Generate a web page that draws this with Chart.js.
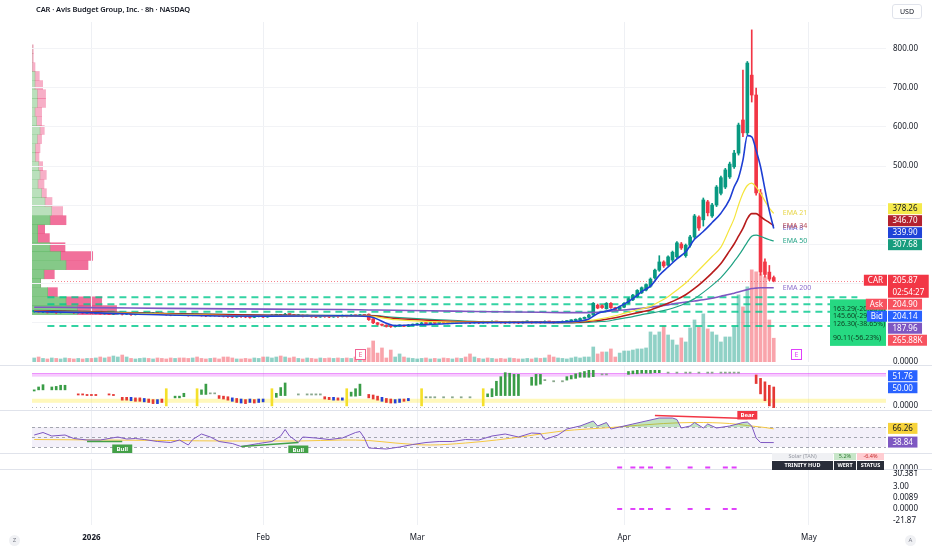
<!DOCTYPE html>
<html lang="en">
<head>
<meta charset="utf-8">
<title>CAR · Avis Budget Group, Inc. · 8h · NASDAQ</title>
<script src="https://cdn.jsdelivr.net/npm/chart.js"></script>
<style>
    body { margin: 0; background: #fff; font-family: "Noto Sans", sans-serif; }
    #wrap { position: relative; width: 932px; height: 550px; overflow: hidden; }
    #wrap canvas { position: absolute; left: 0; }
    .title { position: absolute; left: 36px; top: 4px; font-size: 7.5px; font-weight: 600; color: #131722; letter-spacing: -0.1px; }
    .usd { position: absolute; left: 892px; top: 4px; width: 28px; height: 13px; border: 1px solid #e0e3eb; border-radius: 3px;
           font-size: 7px; line-height: 13px; text-align: center; color: #131722; }
    .sep { position: absolute; left: 0; width: 932px; height: 1px; background: #e0e3eb; }
    .hud { position: absolute; left: 772px; top: 453px; width: 112px; font-size: 5.5px; font-weight: bold; }
    .hud div { display: flex; gap: 1px; margin-bottom: 1px; }
    .hud span { display: block; text-align: center; }
    .hud .a { width: 61px; } .hud .b { width: 22px; } .hud .c { width: 27px; }
    .r1 span { height: 7px; line-height: 7px; background: #f0f1f4; color: #9598a1; font-weight: normal; }
    .r1 .b { background: #c8e6c9; color: #2e7d32; } .r1 .c { background: #ffcdd2; color: #c62828; }
    .r2 span { height: 9px; line-height: 9px; background: #2a2e39; color: #fff; }
    .ico { position: absolute; top: 535px; width: 11px; height: 11px; border-radius: 6px; background: #f0f1f4;
           font-size: 6px; line-height: 11px; text-align: center; color: #787b86; }
</style>
</head>
<body>
<div id="wrap">
    <canvas id="profile" width="932" height="366" style="top:0"></canvas>
    <canvas id="price" width="932" height="366" style="top:0"></canvas>
    <canvas id="osc" width="932" height="45" style="top:366px"></canvas>
    <canvas id="rsi" width="932" height="42" style="top:411px"></canvas>
    <canvas id="lower" width="932" height="97" style="top:453px"></canvas>
    <div class="sep" style="top:365px"></div>
    <div class="sep" style="top:410px"></div>
    <div class="sep" style="top:453px"></div>
    <div class="sep" style="top:469px"></div>
    <div class="title">CAR · Avis Budget Group, Inc. · 8h · NASDAQ</div>
    <div class="usd">USD</div>
    <div class="hud">
        <div class="r1"><span class="a">Solar (TAN)</span><span class="b">5.2%</span><span class="c">-6.4%</span></div>
        <div class="r2"><span class="a">TRINITY HUD</span><span class="b">WERT</span><span class="c">STATUS</span></div>
    </div>
    <div class="ico" style="left:9px">Z</div>
    <div class="ico" style="left:905px">A</div>
</div>

<script>
    // time axis: one slot per 8h bar, plus empty room on the right
    const slotCount = 194;
    const monthTicks = [[13, '2026'], [52, 'Feb'], [87, 'Mar'], [134, 'Apr'], [176, 'May']];

    // candles (USD)
    const opens = [
        127,128,126,127,125,126,124,125,127,125, 124,125,123,124,122,123,121,122,120,121,
        122,120,121,119,120,121,122,121,123,122, 121,119,118,120,121,118,117,119,118,117,
        116,118,117,118,115,116,113,115,114,113, 112,114,115,113,115,117,118,117,120,119,
        116,117,115,116,114,113,115,114,113,115, 114,116,115,117,116,118,120,108,98,94,
        92,89,88,90,91,89,92,93,95,97, 96,98,97,99,98,97,99,98,100,99,
        98,99,98,100,99,101,100,99,98,100, 99,98,100,101,99,100,99,101,100,99,
        99,101,103,104,106,109,112,118,143,142, 134,148,137,132,138,148,157,165,175,182,
        192,213,233,254,246,259,267,300,270,297, 318,369,362,408,372,400,430,446,472,498,
        533,618,585,733,682,431,254,228,214
    ];
    const highs = [
        130,129,129,128,128,127,127,129,128,126, 127,126,126,125,125,124,124,123,123,124,
        123,122,122,122,123,124,123,125,124,123, 122,120,122,121,122,119,121,120,119,118,
        120,119,118,119,116,117,117,116,115,114, 116,117,116,117,119,120,119,122,121,120,
        119,118,118,117,115,117,116,115,117,116, 118,117,119,118,120,119,121,109,99,95,
        93,90,92,93,92,94,95,97,99,98, 100,99,101,100,99,101,100,102,101,100,
        101,100,102,101,103,102,101,100,102,101, 100,102,103,102,102,101,103,102,101,102,
        103,104,106,108,111,113,120,150,146,144, 150,150,138,141,150,162,171,183,190,198,
        213,236,270,257,270,282,306,304,300,322, 376,372,418,412,404,450,474,494,510,540,
        610,746,768,849,700,440,262,245,218
    ];
    const lows = [
        125,125,124,123,124,122,123,124,124,122, 123,121,122,120,121,120,120,119,119,120,
        118,119,117,118,119,120,119,120,120,119, 117,116,117,117,116,115,116,116,115,114,
        115,115,114,113,112,111,112,112,111,110, 111,113,111,112,114,116,115,116,117,115,
        115,113,114,112,111,112,112,111,112,112, 113,113,114,114,115,115,104,96,92,90,
        87,86,87,89,88,88,91,92,94,94, 95,95,96,96,95,96,96,97,97,96,
        97,96,97,97,98,98,97,96,97,97, 96,97,99,97,98,97,98,98,97,98,
        98,100,102,103,105,108,111,117,134,135, 133,135,130,131,137,147,155,163,173,180,
        189,210,230,240,243,255,264,286,266,292, 314,335,346,372,368,396,426,442,468,494,
        528,575,580,664,425,220,215,206,203
    ];
    const closes = [
        128,126,127,125,126,124,125,127,125,124, 125,123,124,122,123,121,122,120,121,122,
        120,121,119,120,121,122,121,123,122,121, 119,118,120,119,118,117,119,118,117,116,
        118,117,116,115,114,113,115,114,113,112, 114,115,113,115,117,118,117,120,119,116,
        117,115,116,114,113,115,114,113,115,114, 116,115,117,116,118,117,106,98,94,92,
        89,88,90,91,89,92,93,95,97,96, 98,97,99,98,97,99,98,100,99,98,
        99,98,100,99,101,100,99,98,100,99, 98,100,101,99,100,99,101,100,99,100,
        101,103,104,107,109,112,118,148,136,137, 148,137,132,139,148,160,169,181,188,196,
        210,233,254,244,267,279,303,290,297,318, 372,341,413,380,400,446,470,490,505,533,
        605,585,764,682,431,228,222,210,205.87
    ];
    // volume, thousands of shares
    const volumes = [
        45,56,40,34,45,40,34,45,40,34,40,34,40,
        40,45,56,45,56,67,56,78,56,40,34,40,45,
        40,34,45,40,34,45,40,45,45,40,45,56,40,
        34,40,45,34,56,56,45,34,34,40,34,45,40,56,
        56,45,56,67,56,45,56,40,34,45,40,34,45,40,
        45,40,45,40,45,40,56,45,56,
        157,235,100,157,45,134,56,90,56,45,40,
        34,40,45,34,40,34,45,40,34,45,40,56,90,
        56,40,34,45,40,34,40,34,45,40,34,34,40,
        34,45,40,45,78,56,45,40,34,45,56,45,56,56,
        168,90,112,112,146,56,100,123,123,134,146,146,157,
        336,302,336,403,302,246,190,269,224,381,470,392,538,370,336,
        302,224,280,280,392,750,616,840,1030,1008,986,952,470,265.88
    ];

    // moving averages at these bars
    const emaAt  = [0,13,30,53,70,76,82,90,100,115, 122,126,128,130,132,134,136,138,140,142,
                    144,146,148,150,152,154,156,158,159,160, 161,162,163,164,165,166,167,168];
    const ema8   = [127,124,118,115,116,114,91,94,98,99, 101,108,122,128,134,146,160,178,192,220,
                    241,262,280,312,332,355,379,415,446,470, 515,578,575,540,498,440,385,339.90];
    const ema21  = [128,125,120,116,116,115,106,101,99,99, 100,104,107,111,116,122,128,134,140,152,
                    165,182,200,222,245,268,292,340,365,400, 430,450,456,446,430,410,392,378.26];
    const ema34  = [129,126,121,117,116,116,109,104,100,99, 99,102,104,107,111,116,121,126,131,139,
                    148,158,170,186,205,226,250,283,300,320, 340,365,378,378,370,362,355,346.70];
    const ema50  = [130,127,122,118,117,117,112,107,102,99, 98,99,101,102,106,110,114,119,123,127,
                    132,139,148,160,176,194,214,240,255,270, 287,305,320,323,320,315,311,307.68];
    const ema200 = [138,137,135,133,132,131,130,129,127,125, 124,124,125,127,129,131,133,135,138,141,
                    144,148,151,154,157,161,166,171,174,177, 180,183,186,187,188,188,188,187.96];

    const askPrice = 204.90;
    const bidPrice = 204.14;
    const countdown = '02:54:27';
    const levels = [163.29, 145.6, 126.3, 90.11];
    const earningsAt = [74, 173];

    // visible range volume profile (price bin, buy volume, sell volume)
    const vpPrice = [840,815,789,764,738,712,687,661,635,610,584,558,533,507,482,
                     456,430,405,379,353,328,302,276,251,225,199,174,148,122,97];
    const vpBuy   = [0,0,0,30,30,53,53,30,47,80,53,33,33,67,80,
                     60,97,130,197,180,57,57,180,287,340,120,87,157,340,453];
    const vpSell  = [13,13,30,43,77,83,83,67,50,43,43,47,37,40,63,
                     60,47,70,110,160,70,117,150,320,220,103,0,97,357,393];
    const valueAreaHigh = 365;

    // oscillator pane: [bar, low, high, kind]
    const oscBars = [
        [0,26,28,'g'],[1,28,33,'g'],[2,28,37,'g'],[4,28,33,'g'],[5,28,34,'g'],[6,28,36,'g'],[7,28,36,'g'],
        [10,19,21,'r'],[11,19,21,'r'],[12,18,20,'r'],[13,18,20,'r'],[14,18,20,'r'],[17,19,21,'r'],[18,18,20,'r'],
        [20,10,15,'r'],[21,10,15,'r'],[22,9,15,'b'],[23,8,14,'r'],[24,8,14,'r'],[25,7,13,'b'],[26,6,12,'r'],
        [27,4,11,'r'],[28,4,11,'b'],[29,6,12,'r'],[30,0,30,'y'],
        [32,14,17,'g'],[33,14,17,'g'],[34,16,22,'g'],[37,0,30,'y'],[38,20,28,'g'],[39,20,38,'g'],
        [40,21,22,'d'],[41,21,22,'d'],
        [42,13,18,'r'],[43,12,17,'r'],[44,10,16,'r'],[45,8,14,'b'],[46,6,13,'r'],[47,5,12,'b'],[48,4,11,'r'],
        [49,6,12,'b'],[50,5,11,'r'],[51,6,12,'b'],[52,7,12,'b'],[54,0,30,'y'],
        [55,15,22,'g'],[56,18,32,'g'],[57,18,40,'g'],
        [60,19,21,'d'],[62,19,21,'d'],[63,19,21,'d'],[64,19,21,'d'],[65,19,21,'d'],
        [66,12,16,'r'],[67,11,15,'r'],[68,10,15,'b'],[69,10,14,'r'],[70,10,14,'b'],[71,0,30,'y'],
        [72,17,24,'g'],[73,17,30,'g'],[74,18,38,'g'],
        [76,14,20,'r'],[77,12,19,'r'],[78,10,17,'r'],[79,8,15,'b'],[80,6,13,'r'],[81,5,12,'r'],[82,5,11,'b'],
        [83,6,12,'b'],[84,8,12,'r'],[85,9,13,'b'],[88,0,30,'y'],
        [89,14,16,'d'],[90,14,16,'d'],[91,14,16,'d'],[93,14,16,'d'],[95,14,16,'d'],[97,14,16,'d'],[99,14,16,'d'],
        [102,0,30,'y'],
        [103,16,21,'g'],[104,16,30,'g'],[105,18,43,'g'],[106,18,51,'g'],[107,18,58,'g'],[108,18,57,'g'],
        [109,18,55,'g'],[110,18,55,'g'],
        [113,36,50,'g'],[114,36,55,'g'],[115,38,55,'g'],[116,44,46,'d'],[118,42,44,'d'],[120,42,44,'d'],
        [121,45,51,'g'],[122,47,53,'g'],[123,48,56,'g'],[124,50,58,'g'],[125,50,60,'g'],[126,50,62,'g'],[127,51,62,'g'],
        [129,54,56,'d'],[130,54,56,'d'],
        [135,55,60,'g'],[136,56,61,'g'],[137,56,62,'g'],[138,57,62,'g'],[139,57,62,'g'],[140,57,62,'g'],
        [141,58,62,'g'],[142,58,62,'g'],
        [144,57,59,'d'],[146,57,59,'d'],[148,57,59,'d'],[149,57,59,'d'],[151,57,59,'d'],[153,57,59,'d'],
        [154,57,59,'d'],[156,57,59,'d'],[157,57,59,'d'],[158,57,59,'d'],[159,57,59,'d'],[160,57,59,'d'],
        [164,39,54,'r'],[165,21,48,'r'],[166,9,42,'r'],[167,0,36,'r'],[168,-3,33,'r']
    ];
    const oscLast = [51.76, 50.00];

    // RSI pane
    const rsiAt  = [0,2,4,7,9,12,15,17,19,21, 23,25,28,31,33,35,36,38,40,42, 45,47,51,54,56,57,58,60,61,64,
                    67,70,73,74,75,76,80,83,86,89, 92,95,98,101,104,107,110,113,115,116,
                    119,121,124,127,128,130,131,136,139,142, 145,146,147,149,150,152,153,155,158,161,
                    162,163,164,165,168];
    const rsiVal = [54,59,52,54,47,44,44,47,50,46, 47,45,41,39,44,34,45,56,50,41, 37,31,37,41,52,65,52,39,50,48,
                    45,48,59,61,48,28,26,30,35,39, 41,41,45,44,52,56,50,58,57,45,
                    54,66,72,82,72,79,66,76,82,88, 88,85,68,72,79,68,76,68,72,79,
                    80,72,48,39,38.84];
    const rsiMaAt  = [0,15,30,45,60,70,76,82,90,98,105,112,120,131,143,150,158,162,166,168];
    const rsiMaVal = [45,44,43,42,42,44,43,38,34,38,44,52,62,69,77,79,77,73,69,66.26];
    // divergences: [label, from bar, to bar, rsi at start, rsi at end]
    const divergences = [['Bull', 12, 20, 41, 41], ['Bull', 47, 60, 31, 39], ['Bear', 141, 162, 93, 87]];

    // lower pane marks
    const markAt = [133, 136, 138, 140, 144, 149, 153, 157, 159];
    const markRows = [44, 0];
    const lowerScale = [[43, '0.0000'], [37, '30.381'], [24, '3.00'], [12, '0.0089'], [0, '0.0000'], [-12, '-21.87']];

    // ---------------------------------------------------------------
    Chart.defaults.font.family = '"Noto Sans", sans-serif';
    Chart.defaults.font.size = 8;
    Chart.defaults.color = '#131722';
    Chart.defaults.animation = false;
    Chart.defaults.plugins.legend.display = false;
    Chart.defaults.plugins.tooltip.enabled = false;

    const labels = Array.from({length: slotCount}, () => '');
    monthTicks.forEach(([i, t]) => { labels[i] = t; });
    const sparse = (at, vals) => {
        const a = labels.map(() => null);
        at.forEach((i, k) => { a[i] = vals[k]; });
        return a;
    };
    const last = a => a[a.length - 1];
    const isUp = closes.map((c, i) => c >= opens[i]);
    const up = '#089981', down = '#f23645';

    function timeAxis(withLabels) {
        const ax = {
            offset: true,
            border: { display: false },
            grid: { offset: false, drawTicks: false, color: c => labels[c.index] ? '#eef0f4' : 'rgba(0,0,0,0)' },
            ticks: { display: false }
        };
        if (withLabels) {
            ax.ticks = {
                autoSkip: false, maxRotation: 0, padding: 8, color: '#131722',
                font: c => ({ size: 8, weight: c.tick && c.tick.label === '2026' ? 'bold' : 'normal' })
            };
            ax.afterFit = s => { s.height = 25; };
        }
        return ax;
    }

    // boxes on the right edge, pushed apart when they collide
    const tagPlugin = {
        id: 'tags',
        afterDraw(chart, args, opts) {
            const items = opts.items || [];
            if (!items.length) return;
            const ctx = chart.ctx;
            const x0 = chart.chartArea.right + 2;
            ctx.save();
            ctx.font = '8px "Noto Sans"';
            ctx.textBaseline = 'middle';
            const list = items.map(t => Object.assign({}, t, {
                y: chart.scales[t.axis || 'y'].getPixelForValue(t.value), h: t.sub ? 24 : 12
            }));
            list.filter(t => t.plain).forEach(t => {
                ctx.fillStyle = '#131722';
                ctx.fillText(t.text, x0 + 5, t.y);
            });
            const groups = list.filter(t => !t.plain).sort((a, b) => a.y - b.y).map(t => ({ items: [t] }));
            const place = g => {
                let off = 0;
                g.items.forEach(t => { t.off = off; off += t.h; });
                g.h = off;
                const pin = g.items.find(t => t.pin);
                g.top = pin ? pin.y - 6 - pin.off
                    : g.items.reduce((s, t) => s + t.y - 6 - t.off, 0) / g.items.length;
            };
            groups.forEach(place);
            let merged = true;
            while (merged) {
                merged = false;
                for (let k = 1; k < groups.length; k++) {
                    if (groups[k].top < groups[k - 1].top + groups[k - 1].h) {
                        groups[k - 1].items.push(...groups[k].items);
                        groups.splice(k, 1);
                        place(groups[k - 1]);
                        merged = true;
                        break;
                    }
                }
            }
            groups.forEach(g => g.items.forEach(t => {
                const top = g.top + t.off;
                const w = Math.max(ctx.measureText(t.text).width, t.sub ? ctx.measureText(t.sub).width : 0) + 9;
                ctx.fillStyle = t.bg;
                ctx.fillRect(x0, top, w, t.h - 1);
                ctx.fillStyle = t.fg || '#fff';
                ctx.fillText(t.text, x0 + 4.5, top + 6);
                if (t.sub) ctx.fillText(t.sub, x0 + 4.5, top + 18);
                if (t.prefix) {
                    const pw = ctx.measureText(t.prefix).width + 8;
                    ctx.fillStyle = t.bg;
                    ctx.fillRect(x0 - pw - 1, top, pw, 11);
                    ctx.fillStyle = t.fg || '#fff';
                    ctx.fillText(t.prefix, x0 - pw + 3, top + 6);
                }
            }));
            ctx.restore();
        }
    };

    const endLabelPlugin = {
        id: 'endLabels',
        afterDatasetsDraw(chart) {
            const ctx = chart.ctx;
            ctx.save();
            ctx.font = '7px "Noto Sans"';
            ctx.textBaseline = 'middle';
            chart.data.datasets.forEach(ds => {
                if (!ds.endLabel) return;
                let i = ds.data.length - 1;
                while (i >= 0 && ds.data[i] == null) i--;
                ctx.fillStyle = ds.endLabelColor;
                ctx.fillText(ds.endLabel, chart.scales.x.getPixelForValue(i) + 9, chart.scales.y.getPixelForValue(ds.data[i]));
            });
            ctx.restore();
        }
    };

    const priceLinePlugin = {
        id: 'priceLine',
        beforeDatasetsDraw(chart, args, opts) {
            if (opts.value == null) return;
            const {ctx, chartArea: a} = chart;
            const yy = Math.round(chart.scales.y.getPixelForValue(opts.value)) + 0.5;
            ctx.save();
            ctx.strokeStyle = opts.color;
            ctx.setLineDash([1, 2]);
            ctx.beginPath(); ctx.moveTo(a.left + 20, yy); ctx.lineTo(a.right, yy); ctx.stroke();
            ctx.restore();
        }
    };

    const levelBoxPlugin = {
        id: 'levelBox',
        afterDatasetsDraw(chart, args, opts) {
            if (!opts.levels) return;
            const {ctx, chartArea: a} = chart;
            const ys = opts.levels.map(v => chart.scales.y.getPixelForValue(v));
            const w = 56, x = a.right - w, top = Math.min(...ys) + 2, bottom = Math.max(...ys) + 20;
            ctx.save();
            ctx.fillStyle = '#26d982';
            ctx.fillRect(x, top, w, bottom - top);
            ctx.beginPath(); ctx.rect(x, top, w, bottom - top); ctx.clip();
            ctx.font = '7px "Noto Sans"';
            ctx.fillStyle = '#0d3d20';
            ctx.textBaseline = 'middle';
            opts.levels.forEach((v, k) => {
                const pct = (v / opts.ref - 1) * 100;
                ctx.fillText(v.toFixed(2) + '(' + pct.toFixed(2) + '%)', x + 3, ys[k] + 12);
            });
            ctx.restore();
        }
    };

    const earningsPlugin = {
        id: 'earnings',
        afterDatasetsDraw(chart, args, opts) {
            if (!opts.at) return;
            const ctx = chart.ctx, b = chart.chartArea.bottom;
            ctx.save();
            ctx.font = '7px "Noto Sans"';
            ctx.textAlign = 'center';
            ctx.textBaseline = 'middle';
            opts.at.forEach((i, k) => {
                const x = Math.round(chart.scales.x.getPixelForValue(i));
                ctx.fillStyle = '#fff';
                ctx.fillRect(x - 5, b - 13, 11, 11);
                ctx.strokeStyle = opts.colors[k];
                ctx.strokeRect(x - 4.5, b - 12.5, 10, 10);
                ctx.fillStyle = opts.colors[k];
                ctx.fillText('E', x + 0.5, b - 7.5);
            });
            ctx.restore();
        }
    };

    const bandPlugin = {
        id: 'bands',
        beforeDatasetsDraw(chart, args, opts) {
            const {ctx, chartArea: a} = chart;
            const y = chart.scales.y;
            ctx.save();
            (opts.fills || []).forEach(f => {
                const y1 = y.getPixelForValue(f.to), y2 = y.getPixelForValue(f.from);
                ctx.fillStyle = f.color;
                ctx.fillRect(a.left, y1, a.right - a.left, y2 - y1);
            });
            (opts.lines || []).forEach(l => {
                const yy = Math.round(y.getPixelForValue(l.value)) + 0.5;
                ctx.strokeStyle = l.color;
                ctx.lineWidth = l.width || 1;
                ctx.setLineDash(l.dash || []);
                ctx.beginPath(); ctx.moveTo(a.left, yy); ctx.lineTo(a.right, yy); ctx.stroke();
            });
            ctx.restore();
        }
    };

    const divTagPlugin = {
        id: 'divTags',
        afterDatasetsDraw(chart) {
            const {ctx, scales: {x, y}} = chart;
            ctx.save();
            ctx.font = 'bold 6px "Noto Sans"';
            ctx.textAlign = 'center';
            ctx.textBaseline = 'middle';
            chart.data.datasets.forEach(ds => {
                if (!ds.divLabel) return;
                let i = ds.data.length - 1;
                while (i >= 0 && ds.data[i] == null) i--;
                const px = x.getPixelForValue(i), py = y.getPixelForValue(ds.data[i]);
                const top = ds.divLabel === 'Bull' ? py + 3 : py - 8;
                ctx.fillStyle = ds.borderColor;
                ctx.fillRect(px - 10, top, 20, 9);
                ctx.fillStyle = '#fff';
                ctx.fillText(ds.divLabel, px, top + 4.5);
            });
            ctx.restore();
        }
    };

    function emaLine(name, vals, color, width, textColor) {
        return {
            type: 'line', data: sparse(emaAt, vals), borderColor: color, borderWidth: width,
            pointRadius: 0, spanGaps: true, cubicInterpolationMode: 'monotone',
            endLabel: name, endLabelColor: textColor
        };
    }

    const priceMin = -2.5, priceMax = 869.2;

    // volume profile (drawn underneath the price pane)
    new Chart(document.getElementById('profile'), {
        type: 'bar',
        data: {
            datasets: [
                { data: vpPrice.map((p, k) => ({ x: vpBuy[k], y: p })), stack: 'vp', barThickness: 9,
                  backgroundColor: vpPrice.map(p => p <= valueAreaHigh ? 'rgba(102,187,106,0.8)' : 'rgba(102,187,106,0.45)') },
                { data: vpPrice.map((p, k) => ({ x: vpSell[k], y: p })), stack: 'vp', barThickness: 9,
                  backgroundColor: vpPrice.map(p => p <= valueAreaHigh ? 'rgba(236,64,122,0.75)' : 'rgba(236,64,122,0.42)') }
            ]
        },
        options: {
            responsive: false,
            indexAxis: 'y',
            layout: { padding: { left: 32, right: 46, top: 22, bottom: 4 } },
            scales: {
                x: { display: false, stacked: true, min: 0, max: 8540 },
                y: { type: 'linear', display: false, stacked: true, min: priceMin, max: priceMax }
            }
        }
    });

    // price pane
    new Chart(document.getElementById('price'), {
        type: 'bar',
        data: {
            labels: labels,
            datasets: [
                emaLine('EMA 8', ema8, '#1e3fd4', 1.6, '#6a63c9'),
                emaLine('EMA 21', ema21, '#f5e53d', 1.2, '#e8d64a'),
                emaLine('EMA 34', ema34, '#b71c1c', 1.6, '#b94a55'),
                emaLine('EMA 50', ema50, '#1fa283', 1.2, '#2aa58a'),
                emaLine('EMA 200', ema200, '#7e57c2', 1.6, '#8e6fcc'),
                { data: opens.map((o, i) => [o, closes[i]]), backgroundColor: isUp.map(u => u ? up : down),
                  barThickness: 3, minBarLength: 1, grouped: false },
                { data: lows.map((l, i) => [l, highs[i]]), backgroundColor: isUp.map(u => u ? up : down),
                  barThickness: 1, grouped: false },
                ...levels.map(lv => ({
                    type: 'line', data: labels.map((_, i) => i >= 3 && i <= 187 ? lv : null),
                    borderColor: 'rgba(0,200,140,0.8)', borderWidth: 2, borderDash: [7, 5], pointRadius: 0
                })),
                { data: volumes, yAxisID: 'yv', barThickness: 3, grouped: false,
                  backgroundColor: isUp.map(u => u ? 'rgba(8,153,129,0.45)' : 'rgba(242,54,69,0.45)') }
            ]
        },
        options: {
            responsive: false,
            layout: { padding: { left: 32, right: 0, top: 22, bottom: 4 } },
            scales: {
                x: timeAxis(false),
                y: {
                    position: 'right', min: priceMin, max: priceMax,
                    // fixed axis width; no extra label padding so the pane lines up with the others
                    afterFit: s => { s.width = 46; s.paddingTop = 0; s.paddingBottom = 0; },
                    border: { display: false },
                    grid: { drawTicks: false, color: c => c.tick.value > 0 && c.tick.value % 100 === 0 ? '#f2f3f6' : 'rgba(0,0,0,0)' },
                    ticks: { stepSize: 100, includeBounds: false, padding: 7,
                             callback: v => v >= 500 && v % 100 === 0 ? v.toFixed(2) : '' }
                },
                yv: { display: false, min: 0, max: 3800 }
            },
            plugins: {
                priceLine: { value: last(closes), color: 'rgba(242,54,69,0.6)' },
                levelBox: { levels: levels, ref: last(closes) },
                earnings: { at: earningsAt, colors: ['#f06292', '#e040fb'] },
                tags: { items: [
                    { value: last(ema21), text: last(ema21).toFixed(2), bg: '#f5ea4c', fg: '#131722' },
                    { value: last(ema34), text: last(ema34).toFixed(2), bg: '#b3212e' },
                    { value: last(ema8), text: last(ema8).toFixed(2), bg: '#1f43d8' },
                    { value: last(ema50), text: last(ema50).toFixed(2), bg: '#179c7d' },
                    { value: last(closes), text: last(closes).toFixed(2), sub: countdown, prefix: 'CAR', bg: '#f23645', pin: true },
                    { value: askPrice, text: askPrice.toFixed(2), prefix: 'Ask', bg: '#f7525f' },
                    { value: bidPrice, text: bidPrice.toFixed(2), prefix: 'Bid', bg: '#2962ff' },
                    { value: last(ema200), text: last(ema200).toFixed(2), bg: '#7e57c2' },
                    { axis: 'yv', value: last(volumes), text: last(volumes).toFixed(2) + 'K', bg: '#f7525f' },
                    { axis: 'yv', value: 0, text: '0.0000', plain: true }
                ] }
            }
        },
        plugins: [priceLinePlugin, endLabelPlugin, levelBoxPlugin, earningsPlugin, tagPlugin]
    });

    // oscillator pane
    const oscColors = { g: '#3a9d47', r: '#e53935', b: '#2340d8', y: '#f5e02a', d: '#8aa88d' };
    const oscData = labels.map(() => null);
    const oscFill = labels.map(() => 'rgba(0,0,0,0)');
    oscBars.forEach(([i, lo, hi, k]) => { oscData[i] = [lo, hi]; oscFill[i] = oscColors[k]; });

    new Chart(document.getElementById('osc'), {
        type: 'bar',
        data: { labels: labels, datasets: [{ data: oscData, backgroundColor: oscFill, barThickness: 2, minBarLength: 1 }] },
        options: {
            responsive: false,
            layout: { padding: { left: 32, right: 46, top: 0, bottom: 0 } },
            scales: { x: timeAxis(false), y: { display: false, min: -8.9, max: 69.6 } },
            plugins: {
                bands: {
                    fills: [{ from: 51, to: 57, color: 'rgba(224,64,251,0.28)' }, { from: 5.4, to: 12.5, color: 'rgba(255,235,59,0.35)' }],
                    lines: [{ value: 57, color: 'rgba(224,64,251,0.45)' }, { value: -1.8, color: '#b2b5be', dash: [1, 3] }]
                },
                tags: { items: [
                    { value: oscLast[0], text: oscLast[0].toFixed(2), bg: '#2962ff', pin: true },
                    { value: oscLast[1], text: oscLast[1].toFixed(2), bg: '#2962ff' },
                    { value: 0, text: '0.0000', plain: true }
                ] }
            }
        },
        plugins: [bandPlugin, tagPlugin]
    });

    // RSI pane
    new Chart(document.getElementById('rsi'), {
        type: 'line',
        data: {
            labels: labels,
            datasets: [
                ...divergences.map(([name, from, to, v0, v1]) => ({
                    data: sparse([from, to], [v0, v1]), spanGaps: true, pointRadius: 0, borderWidth: 1.5,
                    borderColor: name === 'Bull' ? '#43a047' : '#f23645', divLabel: name
                })),
                { data: sparse(rsiAt, rsiVal), spanGaps: true, pointRadius: 0, borderWidth: 1, borderColor: '#7e57c2',
                  fill: { target: { value: 70 }, above: 'rgba(76,175,80,0.35)', below: 'rgba(0,0,0,0)' } },
                { data: sparse(rsiMaAt, rsiMaVal), spanGaps: true, pointRadius: 0, borderWidth: 1, borderColor: '#f5c842',
                  cubicInterpolationMode: 'monotone' }
            ]
        },
        options: {
            responsive: false,
            layout: { padding: { left: 32, right: 46, top: 0, bottom: 0 } },
            scales: { x: timeAxis(false), y: { display: false, min: 18, max: 102 } },
            plugins: {
                bands: {
                    fills: [{ from: 30, to: 70, color: 'rgba(126,87,194,0.09)' }],
                    lines: [70, 50, 30].map(v => ({ value: v, color: '#a3a6af', dash: [3, 3] }))
                },
                tags: { items: [
                    { value: last(rsiMaVal), text: last(rsiMaVal).toFixed(2), bg: '#f7d33b', fg: '#131722' },
                    { value: last(rsiVal), text: last(rsiVal).toFixed(2), bg: '#7e57c2' }
                ] }
            }
        },
        plugins: [bandPlugin, divTagPlugin, tagPlugin]
    });

    // lower pane with time axis
    new Chart(document.getElementById('lower'), {
        type: 'line',
        data: {
            labels: labels,
            datasets: markRows.map(v => ({
                data: sparse(markAt, markAt.map(() => v)), showLine: false, pointStyle: 'line',
                pointRadius: 2.5, pointBorderWidth: 2, pointBorderColor: '#e040fb', borderColor: '#e040fb'
            }))
        },
        options: {
            responsive: false,
            layout: { padding: { left: 32, right: 46, top: 2, bottom: 0 } },
            scales: { x: timeAxis(true), y: { display: false, min: -17, max: 53 } },
            plugins: {
                tags: { items: lowerScale.map(([v, t]) => ({ value: v, text: t, plain: true })) }
            }
        },
        plugins: [tagPlugin]
    });
</script>
</body>
</html>
